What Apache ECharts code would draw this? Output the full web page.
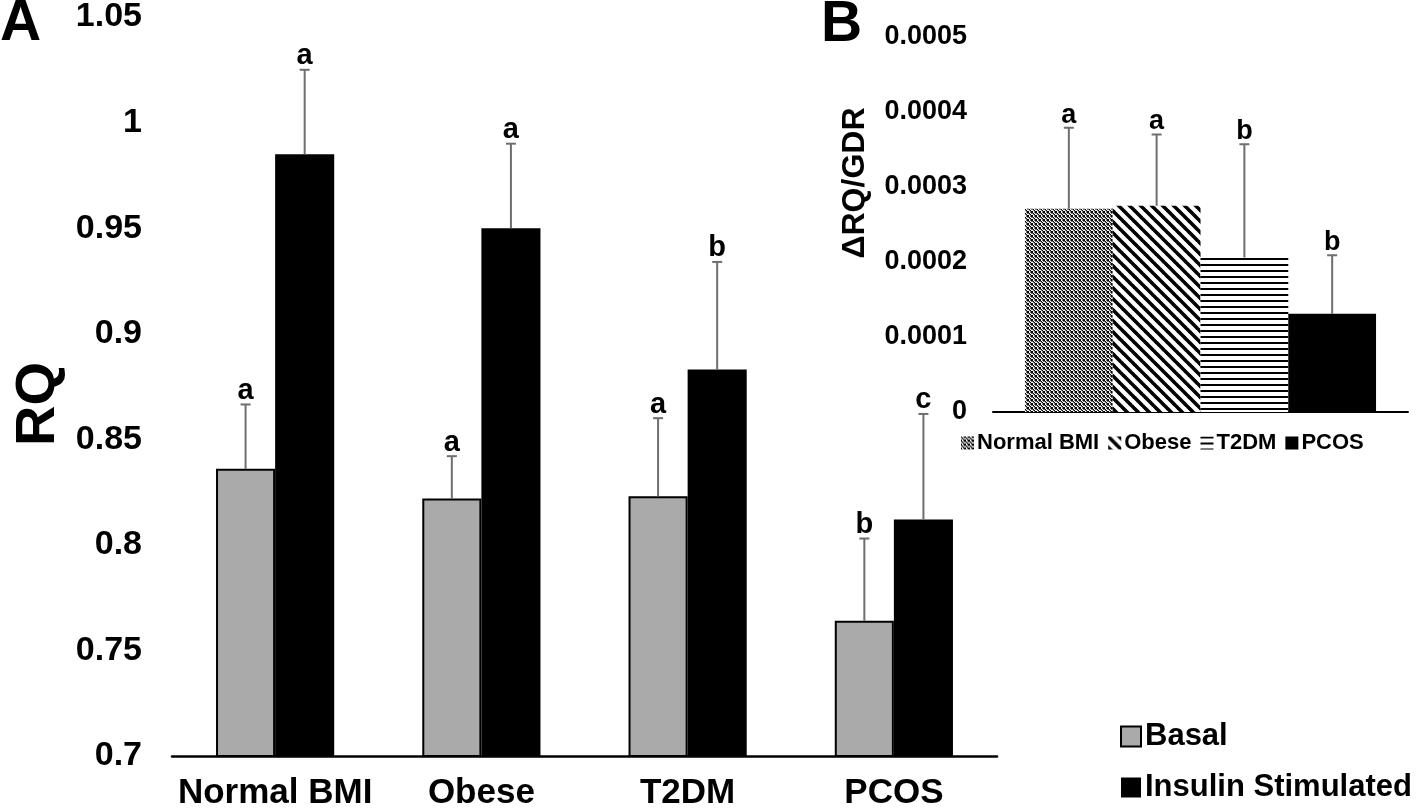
<!DOCTYPE html>
<html>
<head>
<meta charset="utf-8">
<script src="https://cdn.jsdelivr.net/npm/echarts@6/dist/echarts.min.js"></script>
<style>
html,body{margin:0;padding:0;background:#fff;}
#chart{width:1418px;height:812px;}
</style>
</head>
<body>
<div id="chart"></div>
<script>
// ---- Panel A data ----
const categories = ['Normal BMI', 'Obese', 'T2DM', 'PCOS'];
const basal = [0.836, 0.822, 0.823, 0.764];
const basalErrTop = [0.8665, 0.842, 0.860, 0.803];
const basalLetters = ['a', 'a', 'a', 'b'];
const insulin = [0.985, 0.950, 0.883, 0.812];
const insulinErrTop = [1.025, 0.990, 0.934, 0.862];
const insulinLetters = ['a', 'a', 'b', 'c'];
const mainMin = 0.7, mainMax = 1.05, mainStep = 0.05;

// ---- Panel B data ----
const groups = ['Normal BMI', 'Obese', 'T2DM', 'PCOS'];
const ratio = [0.000271, 0.000275, 0.000206, 0.000131];
const ratioErrTop = [0.000379, 0.000370, 0.000357, 0.000209];
const ratioLetters = ['a', 'a', 'b', 'b'];
const insetMin = 0, insetMax = 0.0005, insetStep = 0.0001;

const FONT = '"Liberation Sans", Arial, sans-serif';

// ---- patterns ----
function makeDither() {
  const c = document.createElement('canvas'); c.width = 4; c.height = 4;
  const ctx = c.getContext('2d');
  ctx.fillStyle = '#fff'; ctx.fillRect(0, 0, 4, 4);
  const px = [
    ['#000', '#fff', '#777', '#000'],
    ['#777', '#000', '#fff', '#777'],
    ['#fff', '#777', '#000', '#fff'],
    ['#000', '#fff', '#777', '#000']
  ];
  for (let y = 0; y < 4; y++) for (let x = 0; x < 4; x++) { ctx.fillStyle = px[y][x]; ctx.fillRect(x, y, 1, 1); }
  return c;
}
function makeDiag() {
  const s = 11;
  const c = document.createElement('canvas'); c.width = s; c.height = s;
  const ctx = c.getContext('2d');
  ctx.fillStyle = '#fff'; ctx.fillRect(0, 0, s, s);
  ctx.strokeStyle = '#000'; ctx.lineWidth = 3.6;
  for (let k = -1; k <= 1; k++) {
    ctx.beginPath(); ctx.moveTo(k * s - 1, -1); ctx.lineTo(k * s + s + 1, s + 1); ctx.stroke();
  }
  return c;
}
function makeHoriz() {
  const c = document.createElement('canvas'); c.width = 4; c.height = 6;
  const ctx = c.getContext('2d');
  ctx.fillStyle = '#fff'; ctx.fillRect(0, 0, 4, 6);
  ctx.fillStyle = '#000'; ctx.fillRect(0, 0, 4, 2);
  return c;
}
const insetFills = [
  { image: makeDither(), repeat: 'repeat' },
  { image: makeDiag(), repeat: 'repeat' },
  { image: makeHoriz(), repeat: 'repeat' },
  '#000'
];

// ---- error bar renderer ----
function makeErr(letters, fixedIdx, nSeries, gapFrac, fontSize) {
  return function (params, api) {
    const i = params.dataIndex;
    const cat = api.value(0), v = api.value(1), t = api.value(2);
    const p0 = api.coord([cat, v]);
    const p1 = api.coord([cat, t]);
    const cw = api.size([1, 0])[0];
    const bw = cw * (1 - gapFrac) / nSeries;
    const idx = fixedIdx === null ? i : fixedIdx;
    const cx = p0[0] + (idx - (nSeries - 1) / 2) * bw;
    const st = { stroke: '#6e6e6e', lineWidth: 2 };
    return {
      type: 'group',
      children: [
        { type: 'line', shape: { x1: cx, y1: p0[1], x2: cx, y2: p1[1] }, style: st },
        { type: 'line', shape: { x1: cx - 5, y1: p1[1], x2: cx + 5, y2: p1[1] }, style: st },
        { type: 'text', style: { x: cx, y: p1[1] + 1, text: letters[i], align: 'center', verticalAlign: 'bottom',
          fontSize: fontSize, fontWeight: 'bold', fontFamily: FONT, fill: '#000' } }
      ]
    };
  };
}

const mainGap = 0.427, insetGap = 0.154;

const chart = echarts.init(document.getElementById('chart'), null, { renderer: 'canvas' });
const option = {
  animation: false,
  backgroundColor: '#fff',
  textStyle: { fontFamily: FONT, fontWeight: 'bold', color: '#000' },
  grid: [
    { left: 172, right: 421, top: 16, bottom: 56 },
    { left: 993, right: 10, top: 37, bottom: 400 }
  ],
  xAxis: [
    { type: 'category', gridIndex: 0, data: categories,
      axisLine: { lineStyle: { color: '#000', width: 2.5 } }, axisTick: { show: false },
      axisLabel: { interval: 0, margin: 20, fontSize: 35, fontWeight: 'bold', fontFamily: FONT, color: '#000' } },
    { type: 'category', gridIndex: 1, data: ['ΔRQ/GDR'],
      axisLine: { lineStyle: { color: '#000', width: 2 } }, axisTick: { show: false }, axisLabel: { show: false } }
  ],
  yAxis: [
    { type: 'value', gridIndex: 0, min: mainMin, max: mainMax, interval: mainStep,
      axisLine: { show: false }, axisTick: { show: false }, splitLine: { show: false },
      axisLabel: { margin: 30, fontSize: 34, fontWeight: 'bold', fontFamily: FONT, color: '#000' } },
    { type: 'value', gridIndex: 1, min: insetMin, max: insetMax, interval: insetStep,
      axisLine: { show: false }, axisTick: { show: false }, splitLine: { show: false },
      axisLabel: { margin: 26, fontSize: 27, fontWeight: 'bold', fontFamily: FONT, color: '#000',
        formatter: v => (v === 0 ? '0' : v.toFixed(4)) } }
  ],
  legend: [
    { data: ['Basal', 'Insulin Stimulated'], orient: 'vertical', left: 1115, top: 716,
      itemWidth: 20, itemHeight: 20, itemGap: 20, icon: 'rect',
      textStyle: { fontSize: 31, fontWeight: 'bold', fontFamily: FONT, color: '#000', padding: [0, 0, 0, -1] } },
    { data: groups, orient: 'horizontal', left: 956, top: 427,
      itemWidth: 13, itemHeight: 13, itemGap: 9, icon: 'rect',
      textStyle: { fontSize: 22, fontWeight: 'bold', fontFamily: FONT, color: '#000', padding: [0, 0, 0, -2] } }
  ],
  series: [
    { name: 'Basal', type: 'bar', xAxisIndex: 0, yAxisIndex: 0, data: basal,
      barGap: '0%', barCategoryGap: (mainGap * 100) + '%',
      itemStyle: { color: '#aaaaaa', borderColor: '#000', borderWidth: 2 } },
    { name: 'Insulin Stimulated', type: 'bar', xAxisIndex: 0, yAxisIndex: 0, data: insulin,
      barGap: '0%', barCategoryGap: (mainGap * 100) + '%',
      itemStyle: { color: '#000' } },
    { type: 'custom', xAxisIndex: 0, yAxisIndex: 0, z: 10,
      renderItem: makeErr(basalLetters, 0, 2, mainGap, 29),
      encode: { x: 0, y: [1, 2] },
      data: basal.map((v, i) => [i, v, basalErrTop[i]]) },
    { type: 'custom', xAxisIndex: 0, yAxisIndex: 0, z: 10,
      renderItem: makeErr(insulinLetters, 1, 2, mainGap, 29),
      encode: { x: 0, y: [1, 2] },
      data: insulin.map((v, i) => [i, v, insulinErrTop[i]]) }
  ].concat(groups.map((g, i) => ({
    name: g, type: 'bar', xAxisIndex: 1, yAxisIndex: 1, data: [ratio[i]],
    barGap: '0%', barCategoryGap: (insetGap * 100) + '%',
    itemStyle: { color: insetFills[i] }
  }))).concat([
    { type: 'custom', xAxisIndex: 1, yAxisIndex: 1, z: 10,
      renderItem: makeErr(ratioLetters, null, 4, insetGap, 27),
      encode: { x: 0, y: [1, 2] },
      data: ratio.map((v, i) => [0, v, ratioErrTop[i]]) }
  ]),
  graphic: [
    { type: 'text', left: 0, top: -4, style: { text: 'A', fontSize: 57, fontWeight: 'bold', fontFamily: FONT, fill: '#000' } },
    { type: 'text', left: 821, top: -3, style: { text: 'B', fontSize: 57, fontWeight: 'bold', fontFamily: FONT, fill: '#000' } },
    { type: 'text', x: 39, y: 404, rotation: Math.PI / 2,
      style: { text: 'RQ', fontSize: 56, fontWeight: 'bold', fontFamily: FONT, fill: '#000', align: 'center', verticalAlign: 'middle' } },
    { type: 'text', x: 855, y: 183, rotation: Math.PI / 2,
      style: { text: 'ΔRQ/GDR', fontSize: 32, fontWeight: 'bold', fontFamily: FONT, fill: '#000', align: 'center', verticalAlign: 'middle' } }
  ]
};
chart.setOption(option);
</script>
</body>
</html>
